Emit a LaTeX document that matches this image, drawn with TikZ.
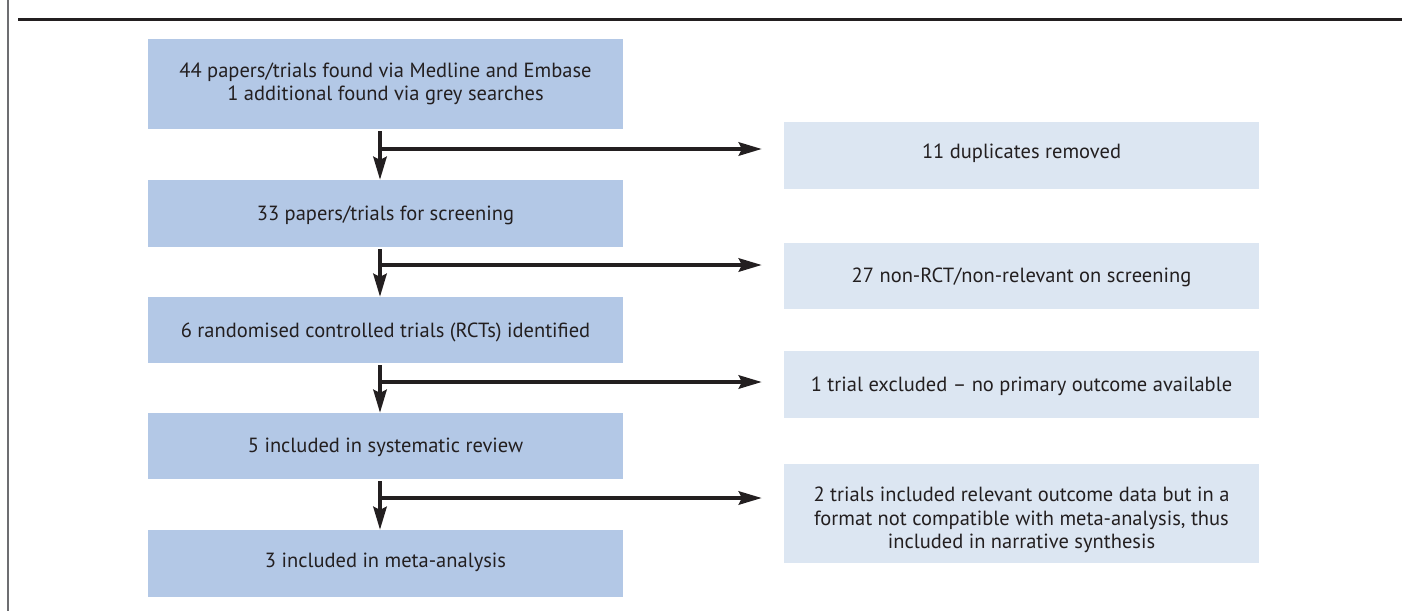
\documentclass[tikz,border=0pt]{standalone}
\usepackage{fontspec}
\setmainfont{PT Sans}
\usetikzlibrary{arrows.meta}
\definecolor{ink}{HTML}{231F20}
\definecolor{leftfill}{HTML}{B3C8E6}
\definecolor{rightfill}{HTML}{DCE6F2}
\definecolor{edgegray}{HTML}{6D6E71}
\begin{document}
\begin{tikzpicture}[x=1pt,y=-1pt,
  mainbox/.style={fill=leftfill, draw=none, minimum width=475pt, inner sep=0pt, anchor=north west},
  sidebox/.style={fill=rightfill, draw=none, minimum width=475pt, inner sep=0pt, anchor=north west},
  txt/.style={text=ink, font=\fontsize{20.5}{23.5}\selectfont, align=center, inner sep=0pt},
  arr/.style={draw=ink, line width=4.5pt, -{Stealth[length=23pt,width=13pt,inset=3pt]}},
]
\useasboundingbox (0,0) rectangle (1402,611);
% frame lines
\draw[edgegray, line width=1.5pt] (8,0) -- (8,611);
\draw[ink, line width=2.5pt] (18,19.5) -- (1402,19.5);
% main boxes
\node[mainbox, minimum height=90pt] (b1) at (148,39) {};
\node[mainbox, minimum height=67pt] (b2) at (148,180) {};
\node[mainbox, minimum height=66pt] (b3) at (148,297) {};
\node[mainbox, minimum height=66pt] (b4) at (148,413) {};
\node[mainbox, minimum height=67pt] (b5) at (148,530) {};
% side boxes
\node[sidebox, minimum height=67pt] (r1) at (784,122) {};
\node[sidebox, minimum height=66pt] (r2) at (784,243) {};
\node[sidebox, minimum height=67pt] (r3) at (784,351) {};
\node[sidebox, minimum height=99pt] (r4) at (784,464) {};
% texts
\node[txt] (t1) at (385.5,84) {44 papers/trials found via Medline and Embase\\1 additional found via grey searches};
\node[txt, anchor=base] (t2) at (385.5,220) {33 papers/trials for screening};
\node[txt, anchor=base] (t3) at (385.5,337) {6 randomised controlled trials (RCTs) identified};
\node[txt, anchor=base] (t4) at (385.5,452) {5 included in systematic review};
\node[txt, anchor=base] (t5) at (385.5,567) {3 included in meta-analysis};
\node[txt, anchor=base] (s1) at (1021.5,158) {11 duplicates removed};
\node[txt, anchor=base] (s2) at (1021.5,282) {27 non-RCT/non-relevant on screening};
\node[txt, anchor=base] (s3) at (1021.5,391) {1 trial excluded -- no primary outcome available};
\node[txt] (s4) at (1021.5,520) {2 trials included relevant outcome data but in a\\format not compatible with meta-analysis, thus\\included in narrative synthesis};
% connectors
\coordinate (vx) at (380,0);
\draw[arr, shorten <=2pt] (b1.south -| vx) -- (b2.north -| vx);
\draw[arr, shorten <=2pt] (b2.south -| vx) -- (b3.north -| vx);
\draw[arr, shorten <=2pt] (b3.south -| vx) -- (b4.north -| vx);
\draw[arr, shorten <=2pt] (b4.south -| vx) -- (b5.north -| vx);
\coordinate (h1) at (380,149);
\coordinate (h2) at (380,265);
\coordinate (h3) at (380,382);
\coordinate (h4) at (380,498);
\draw[arr, shorten >=22pt] (h1) -- (h1 -| r1.west);
\draw[arr, shorten >=22pt] (h2) -- (h2 -| r2.west);
\draw[arr, shorten >=22pt] (h3) -- (h3 -| r3.west);
\draw[arr, shorten >=22pt] (h4) -- (h4 -| r4.west);
\end{tikzpicture}
\end{document}
